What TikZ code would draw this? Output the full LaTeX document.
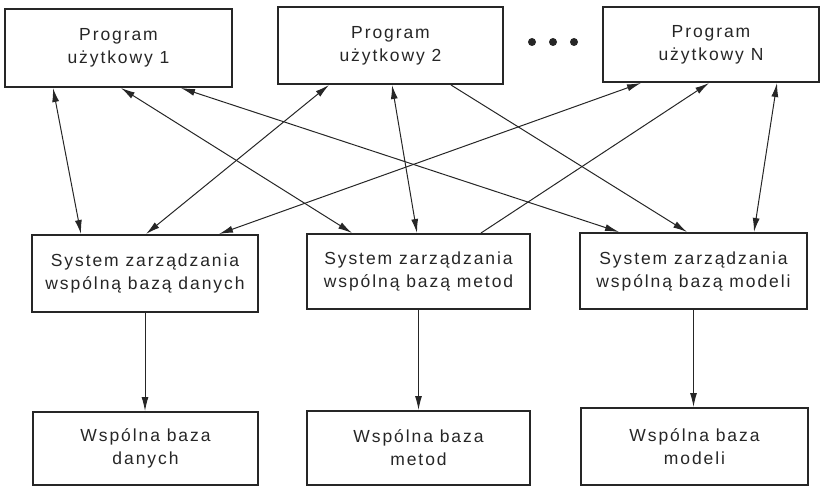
\documentclass[tikz,border=0pt]{standalone}
\usepackage{fontspec}
\setmainfont{Liberation Sans}[LetterSpace=11]
\usetikzlibrary{arrows.meta}
\definecolor{ink}{HTML}{262626}
\begin{document}
\begin{tikzpicture}[x=1pt,y=-1pt,
  box/.style={draw=ink, line width=2pt, rectangle, align=center, text=ink,
    font=\fontsize{17.5}{23}\selectfont, inner sep=0pt},
  link/.style={draw=ink, line width=1pt, -{Latex[length=14pt,width=7pt]}},
  both/.style={draw=ink, line width=1pt, {Latex[length=14pt,width=7pt]}-{Latex[length=14pt,width=7pt]}},
  dotmark/.style={circle, fill=ink, inner sep=0pt, minimum size=8pt}]
\useasboundingbox (0,0) rectangle (828,487);

% application programs
\node[box, minimum width=227pt, minimum height=78pt] (p1) at (118.5,48) {Program\\użytkowy 1};
\node[box, minimum width=225pt, minimum height=77pt] (p2) at (390.5,45.5) {Program\\użytkowy 2};
\node[box, minimum width=216pt, minimum height=75pt] (pn) at (711,44.5) {Program\\użytkowy N};
\node[dotmark] (d1) at (532,42) {};
\node[dotmark] (d2) at (553,42) {};
\node[dotmark] (d3) at (574,42) {};

% management systems
\node[box, minimum width=226pt, minimum height=77pt] (s1) at (145,273.5) {System zarządzania\\wspólną bazą danych};
\node[box, minimum width=223pt, minimum height=75pt] (s2) at (418.5,271.5) {System zarządzania\\wspólną bazą metod};
\node[box, minimum width=227pt, minimum height=76pt] (s3) at (693.5,271) {System zarządzania\\wspólną bazą modeli};

% shared bases
\node[box, minimum width=225pt, minimum height=73pt] (b1) at (145.5,448.5) {Wspólna baza\\danych};
\node[box, minimum width=223pt, minimum height=74pt] (b2) at (418.5,448) {Wspólna baza\\metod};
\node[box, minimum width=227pt, minimum height=77pt] (b3) at (694.5,446.5) {Wspólna baza\\modeli};

% programs <-> management systems
\draw[both] ([xshift=49pt]p1.south west) -- ([xshift=50pt]s1.north west);
\draw[both] ([xshift=117pt]p1.south west) -- ([xshift=46pt]s2.north west);
\draw[both] ([xshift=177pt]p1.south west) -- ([xshift=40pt]s3.north west);
\draw[both] ([xshift=52pt]p2.south west) -- ([xshift=115pt]s1.north west);
\draw[both] ([xshift=115pt]p2.south west) -- ([xshift=111pt]s2.north west);
\draw[link] ([xshift=174pt]p2.south west) -- ([xshift=108pt]s3.north west);
\draw[both] ([xshift=39pt]pn.south west) -- ([xshift=188pt]s1.north west);
\draw[link] ([xshift=175pt]s2.north west) -- ([xshift=107pt]pn.south west);
\draw[both] ([xshift=175pt]pn.south west) -- ([xshift=175pt]s3.north west);

% management systems -> bases
\draw[link] (s1.south) -- (s1.south |- b1.north);
\draw[link] (s2.south) -- (s2.south |- b2.north);
\draw[link] (s3.south) -- (s3.south |- b3.north);
\end{tikzpicture}
\end{document}
